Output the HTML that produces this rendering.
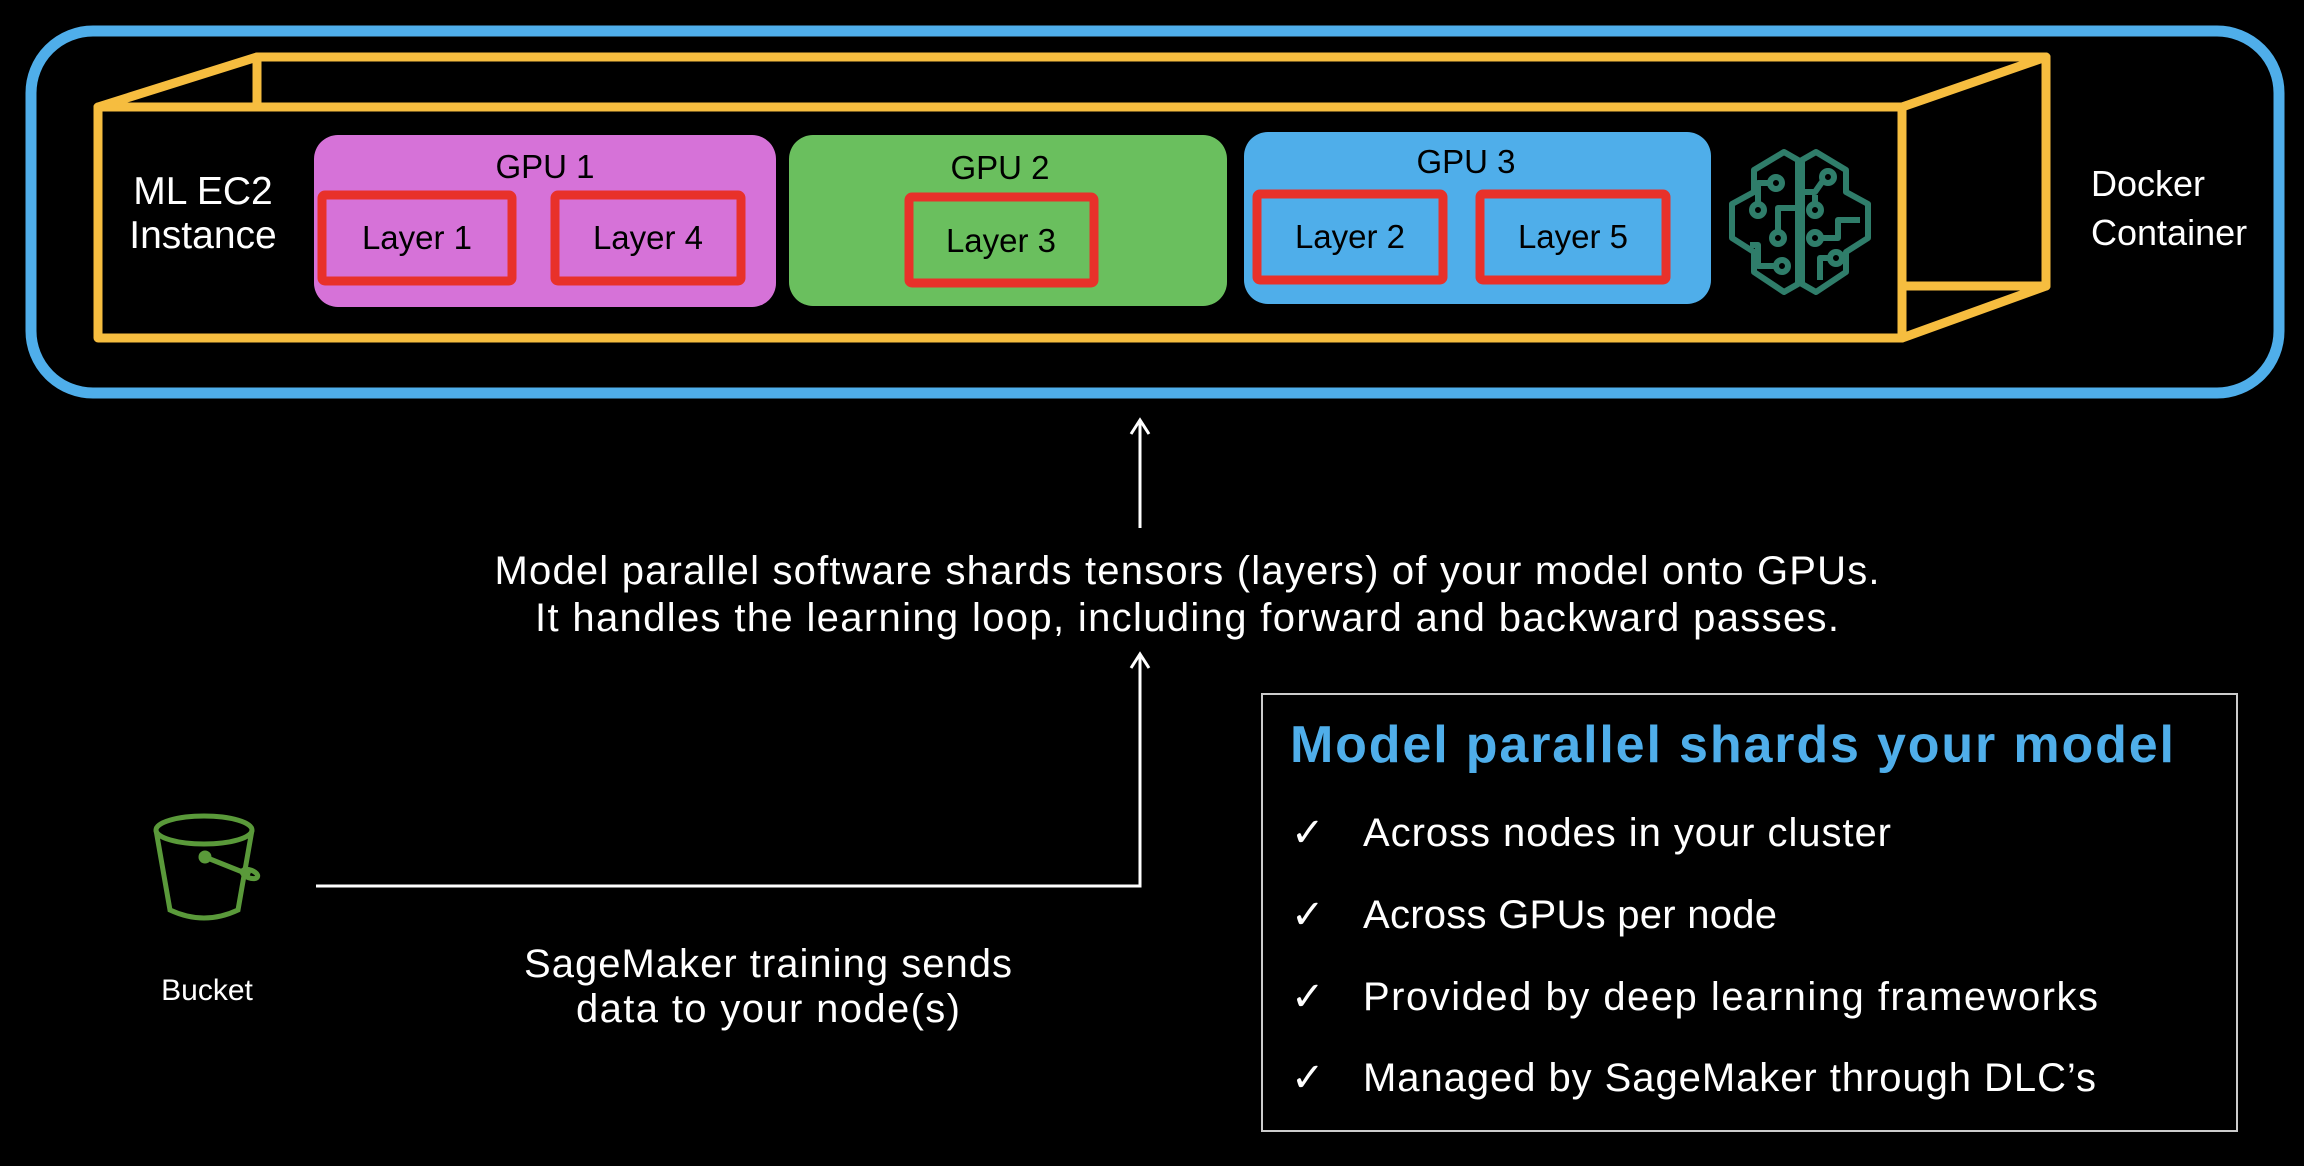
<!DOCTYPE html>
<html><head><meta charset="utf-8"><style>
html,body{margin:0;padding:0;background:#000;}
svg{display:block;}
text{font-family:"Liberation Sans","DejaVu Sans",sans-serif;}
</style></head><body>
<svg width="2304" height="1166" viewBox="0 0 2304 1166" xmlns="http://www.w3.org/2000/svg">
<rect width="2304" height="1166" fill="#000"/>
<!-- outer blue -->
<rect x="31" y="31" width="2248" height="362" rx="62" fill="none" stroke="#4faeea" stroke-width="11"/>
<!-- docker box -->
<g fill="none" stroke="#f6bd3f" stroke-width="9" stroke-linejoin="round" stroke-linecap="round">
<rect x="98" y="107" width="1804" height="231"/>
<polyline points="98,107 257,57 2046,57 2046,286 1902,338"/>
<line x1="257" y1="57" x2="257" y2="107"/>
<line x1="1902" y1="107" x2="2046" y2="57"/>
<line x1="1902" y1="286" x2="2046" y2="286"/>
</g>
<!-- GPUs -->
<rect x="314" y="135" width="462" height="172" rx="24" fill="#d672d8"/>
<rect x="789" y="135" width="438" height="171" rx="24" fill="#6abf5e"/>
<rect x="1244" y="132" width="467" height="172" rx="24" fill="#4faeea"/>
<g fill="none" stroke="#e8312a" stroke-width="9">
<rect x="322" y="195" width="190" height="86" rx="3"/>
<rect x="555" y="195" width="186" height="86" rx="3"/>
<rect x="909" y="197" width="185" height="86" rx="3"/>
<rect x="1257" y="194" width="186" height="86" rx="3"/>
<rect x="1480" y="194" width="186" height="86" rx="3"/>
</g>
<g fill="#000" font-size="33" text-anchor="middle">
<text x="545" y="178">GPU 1</text>
<text x="1000" y="179">GPU 2</text>
<text x="1466" y="173">GPU 3</text>
<text x="417" y="249">Layer 1</text>
<text x="648" y="249">Layer 4</text>
<text x="1001" y="252">Layer 3</text>
<text x="1350" y="248">Layer 2</text>
<text x="1573" y="248">Layer 5</text>
</g>
<g fill="#fff" font-size="39" text-anchor="middle">
<text x="203" y="204">ML EC2</text>
<text x="203" y="248">Instance</text>
</g>
<g fill="#fff" font-size="36">
<text x="2091" y="196">Docker</text>
<text x="2091" y="245">Container</text>
</g>
<!-- brain -->
<g transform="translate(1720,140)" fill="none" stroke="#2f7d6a" stroke-width="6" stroke-linejoin="round">
<polygon points="64,12 78,20 78,144 64,152 34,132 34,112 12,98 12,64 34,52 34,30"/>
<polygon points="96,12 82,20 82,144 96,152 126,132 126,112 148,98 148,64 126,52 126,30"/>
<circle cx="56" cy="43" r="6"/><circle cx="38" cy="70" r="6"/><circle cx="58" cy="98" r="6"/><circle cx="62" cy="126" r="6"/>
<circle cx="108" cy="37" r="6"/><circle cx="95" cy="70" r="6"/><circle cx="95" cy="98" r="6"/><circle cx="116" cy="118" r="6"/>
<polyline points="50,43 38,43 38,64"/><polyline points="58,92 58,68 78,68"/><polyline points="56,126 38,126 38,105 30,105"/>
<polyline points="102,42 95,52 82,52"/><line x1="95" y1="55" x2="95" y2="64"/><polyline points="101,98 118,98 118,80 140,80"/><polyline points="110,118 100,118 100,140"/>
</g>
<!-- arrows -->
<g stroke="#fff" stroke-width="3" fill="none">
<line x1="1140" y1="528" x2="1140" y2="422"/>
<polyline points="1131,434 1140,420 1149,434"/>
<polyline points="316,886 1140,886 1140,656"/>
<polyline points="1131,668 1140,654 1149,668"/>
</g>
<g fill="#fff" font-size="40" text-anchor="middle">
<text x="1187" y="584" textLength="1385">Model parallel software shards tensors (layers) of your model onto GPUs.</text>
<text x="1187" y="631" textLength="1304">It handles the learning loop, including forward and backward passes.</text>
<text x="768" y="977" textLength="488">SageMaker training sends</text>
<text x="768" y="1022" textLength="384">data to your node(s)</text>
</g>
<!-- bucket -->
<g transform="translate(100,780)" fill="none" stroke="#5a9a3a" stroke-width="5">
<ellipse cx="104" cy="50" rx="48" ry="14"/>
<path d="M56,50 L70,130 Q104,146 138,130 L152,50"/>
<line x1="105" y1="77" x2="150" y2="95"/>
<ellipse cx="150" cy="94" rx="8" ry="4" transform="rotate(20 150 94)"/>
<circle cx="105" cy="77" r="4" fill="#5a9a3a"/>
</g>
<text x="207" y="1000" fill="#fff" font-size="30" text-anchor="middle">Bucket</text>
<!-- right box -->
<rect x="1262" y="694" width="975" height="437" fill="none" stroke="#ccc" stroke-width="2"/>
<text x="1290" y="762" fill="#4faeea" font-size="52" font-weight="bold" textLength="884">Model parallel shards your model</text>
<g fill="#fff" font-size="40">
<text x="1291" y="846">✓</text><text x="1363" y="846" textLength="528">Across nodes in your cluster</text>
<text x="1291" y="928">✓</text><text x="1363" y="928" textLength="414">Across GPUs per node</text>
<text x="1291" y="1010">✓</text><text x="1363" y="1010" textLength="735">Provided by deep learning frameworks</text>
<text x="1291" y="1091">✓</text><text x="1363" y="1091" textLength="733">Managed by SageMaker through DLC’s</text>
</g>
</svg>
</body></html>
